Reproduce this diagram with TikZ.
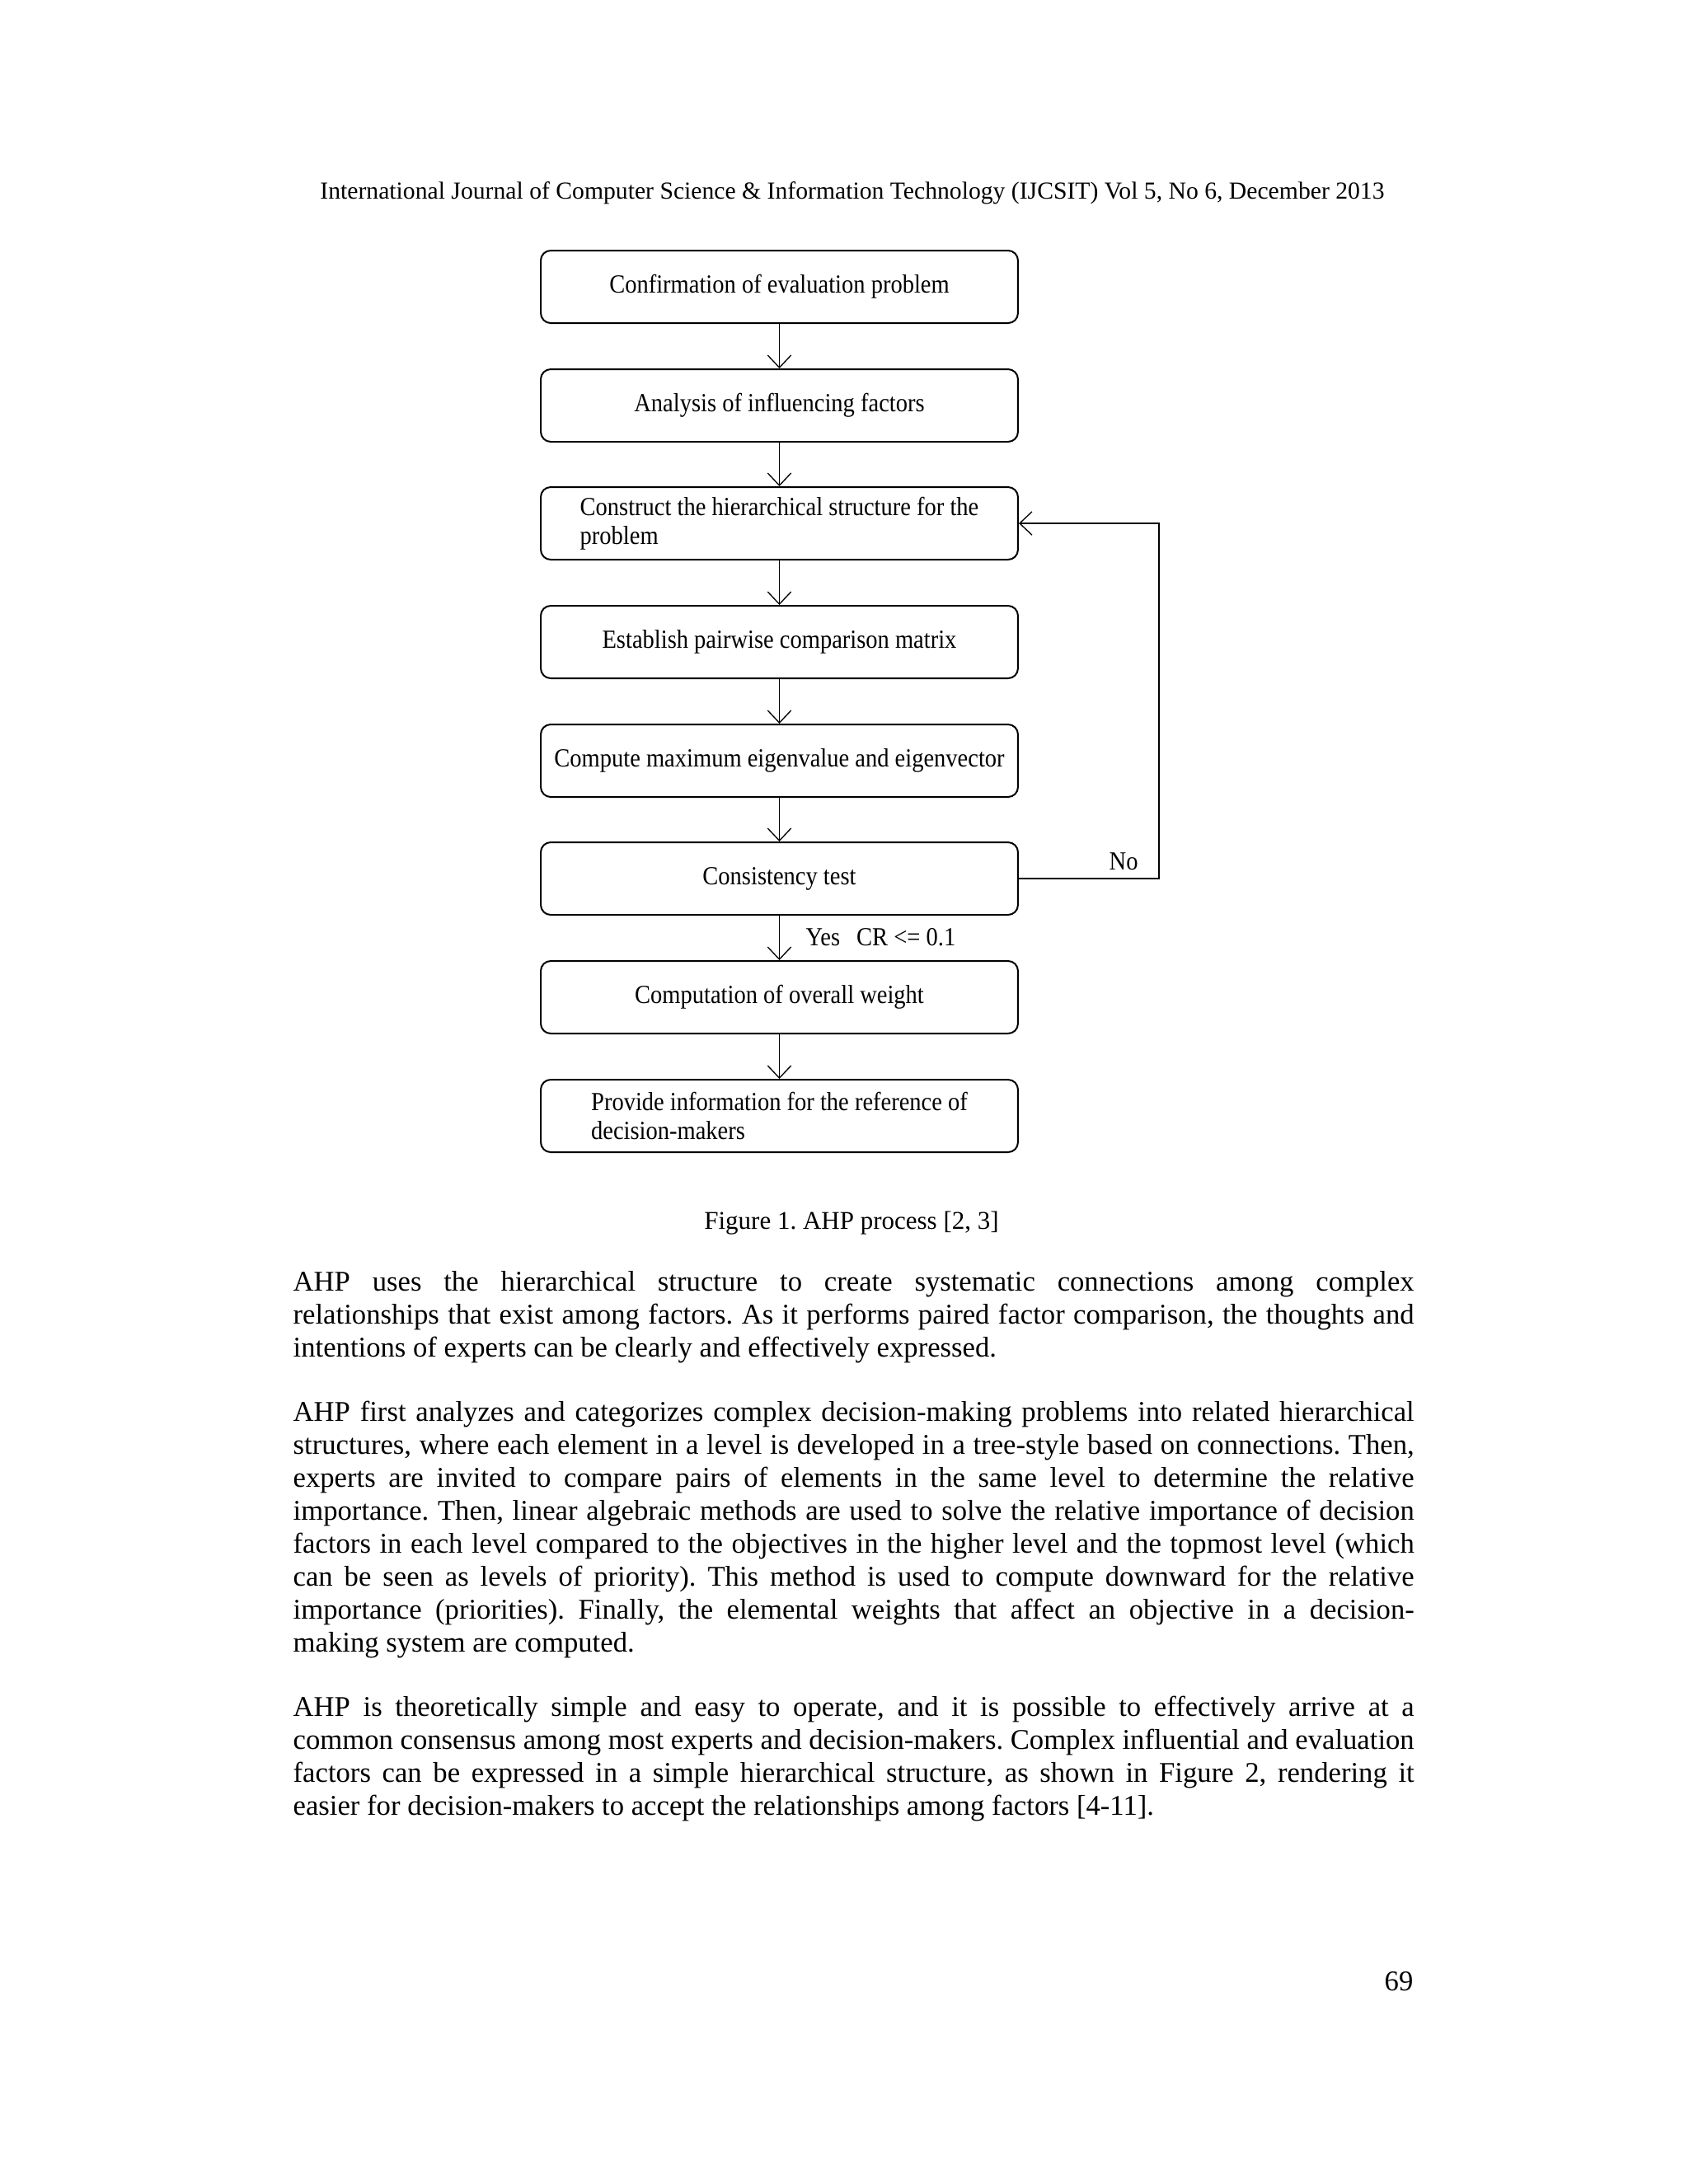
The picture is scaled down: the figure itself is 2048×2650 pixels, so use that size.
\documentclass[tikz,border=0pt]{standalone}
\usepackage{fontspec}
\setmainfont{Liberation Serif}
\newfontfamily\boxfont[FakeStretch=0.9]{Liberation Serif}
\usetikzlibrary{arrows.meta}
\frenchspacing
\tikzset{
  stepbox/.style={draw, line width=0.6bp, rounded corners=3.6bp, minimum width=173bp,
    minimum height=26.3bp, inner sep=0pt, font=\boxfont\fontsize{9.5}{10.5}\selectfont, align=left},
  flow/.style={line width=0.4bp, -{Straight Barb[length=4.5bp,width=8.5bp]}},
  lbl/.style={font=\boxfont\fontsize{9.5}{10.5}\selectfont, inner sep=0pt, anchor=base west},
  bodytext/.style={inner sep=0pt, anchor=base west, text width=406.4bp, align=justify,
    font=\fontsize{10.4}{12.0}\selectfont},
}
\begin{document}
\frenchspacing
\begin{tikzpicture}[x=0.29883bp, y=-0.29883bp]
\path[use as bounding box, fill=white] (0,0) rectangle (2048,2650);

\node[font=\fontsize{8.9}{10}\selectfont, anchor=base, inner sep=0pt] (hdr) at (1034,241)
  {International Journal of Computer Science \& Information Technology (IJCSIT) Vol 5, No 6, December 2013};

\node[stepbox] (b1) at (945.5,348) {Confirmation of evaluation problem};
\node[stepbox] (b2) at (945.5,492) {Analysis of influencing factors};
\node[stepbox] (b3) at (945.5,635) {Construct the hierarchical structure for the\\problem};
\node[stepbox] (b4) at (945.5,779) {Establish pairwise comparison matrix};
\node[stepbox] (b5) at (945.5,923) {Compute maximum eigenvalue and eigenvector};
\node[stepbox] (b6) at (945.5,1066) {Consistency test};
\node[stepbox] (b7) at (945.5,1210) {Computation of overall weight};
\node[stepbox] (b8) at (945.5,1354) {Provide information for the reference of\\decision-makers};

\draw[flow] (b1) -- (b2);
\draw[flow] (b2) -- (b3);
\draw[flow] (b3) -- (b4);
\draw[flow] (b4) -- (b5);
\draw[flow] (b5) -- (b6);
\draw[flow] (b6) -- (b7);
\draw[flow] (b7) -- (b8);
\coordinate (fb) at (1406,1066);
\draw[flow] (b6.east) -- (fb) |- (b3.east);

\node[lbl] (no) at (1345,1055) {No};
\node[lbl] (yes) at (977,1147) {Yes\hspace*{6bp}CR <= 0.1};

\node[font=\fontsize{9.3}{11}\selectfont, anchor=base, inner sep=0pt] (cap) at (1033,1491)
  {Figure 1. AHP process [2, 3]};

\node[bodytext] (p1) at (355,1566) {AHP uses the hierarchical structure to create systematic connections among complex\linebreak
relationships that exist among factors. As it performs paired factor comparison, the thoughts and\linebreak
intentions of experts can be clearly and effectively expressed.};

\node[bodytext] (p2) at (355,1724) {AHP first analyzes and categorizes complex decision-making problems into related hierarchical\linebreak
structures, where each element in a level is developed in a tree-style based on connections. Then,\linebreak
experts are invited to compare pairs of elements in the same level to determine the relative\linebreak
importance. Then, linear algebraic methods are used to solve the relative importance of decision\linebreak
factors in each level compared to the objectives in the higher level and the topmost level (which\linebreak
can be seen as levels of priority). This method is used to compute downward for the relative\linebreak
importance (priorities). Finally, the elemental weights that affect an objective in a decision-\linebreak
making system are computed.};

\node[bodytext] (p3) at (355,2082) {AHP is theoretically simple and easy to operate, and it is possible to effectively arrive at a\linebreak
common consensus among most experts and decision-makers. Complex influential and evaluation\linebreak
factors can be expressed in a simple hierarchical structure, as shown in Figure 2, rendering it\linebreak
easier for decision-makers to accept the relationships among factors [4-11].};

\node[font=\fontsize{10.4}{12}\selectfont, anchor=base east, inner sep=0pt] (pg) at (1715,2415) {69};
\end{tikzpicture}
\end{document}
